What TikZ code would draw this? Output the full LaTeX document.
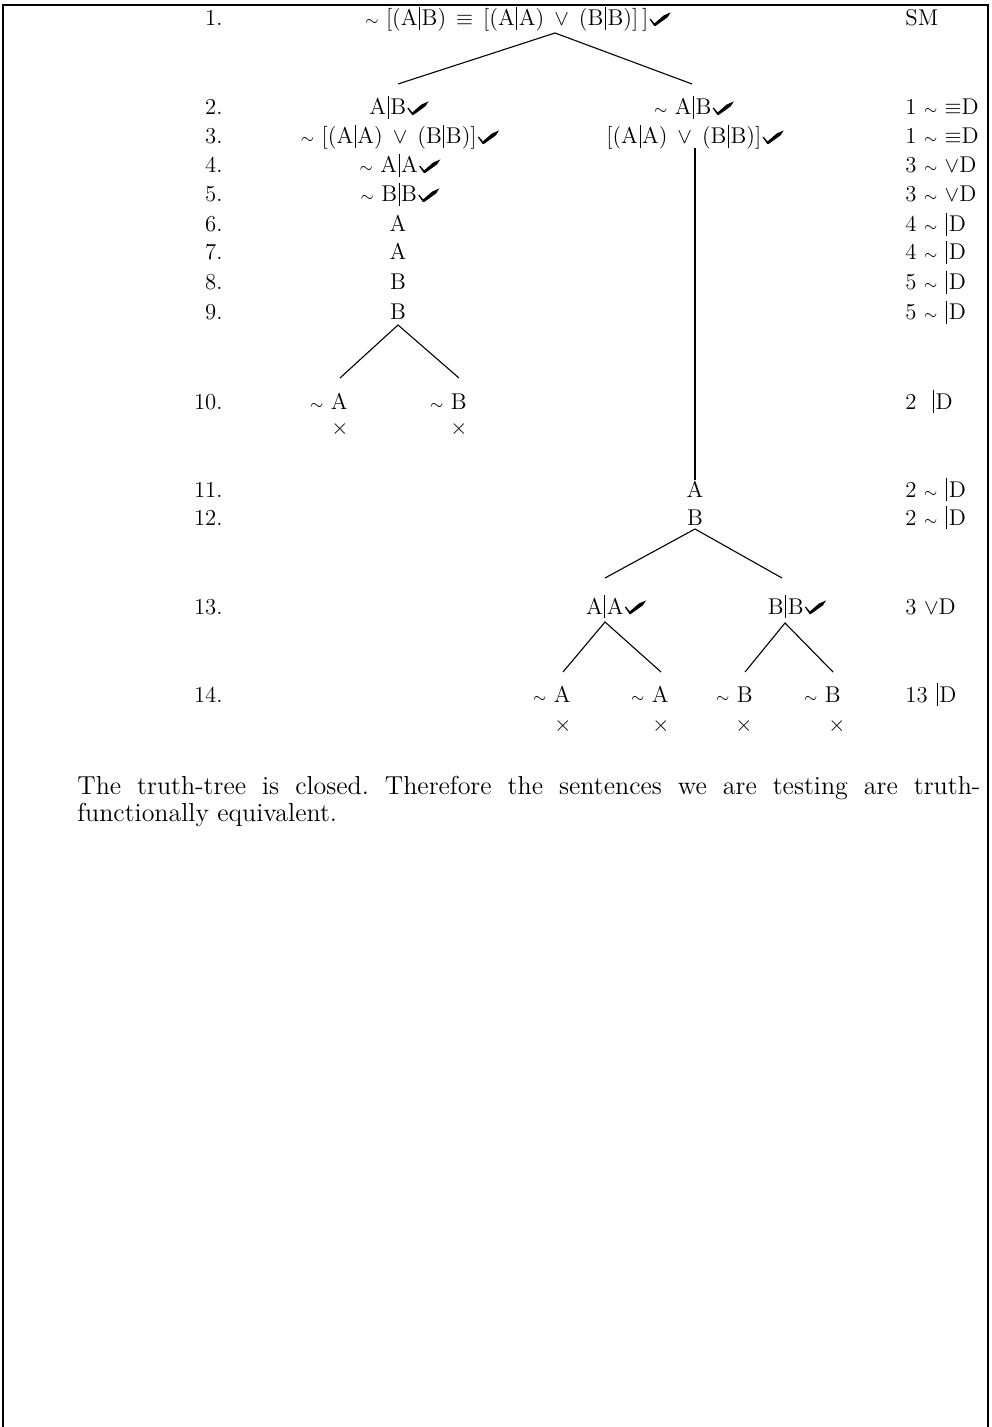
\documentclass[tikz,border=0pt]{standalone}
\usepackage{amssymb}
\newcommand\tf{\fontsize{11.4}{13}\selectfont}
\newcommand\ptf{\fontsize{13}{15}\selectfont}
\newcommand\shf{\kern0.8pt\rule[-2pt]{0.45pt}{11.5pt}\kern0.8pt}
\newcommand\tneg{{\footnotesize$\sim$}\ }
\newcommand\teq{\kern5pt$\equiv$\kern5pt}
\newcommand\tor{\kern5pt$\vee$\kern5pt}
\newcommand\chk{\kern0.6pt\tikz[baseline=0pt,x=1pt,y=1pt]\fill (0,3.4) -- (0.5,3.7) -- (2.5,1.3) -- (7.0,5.2) -- (10.6,6.8) -- (9.0,4.3) -- (3.0,0) -- (2.4,0) -- cycle;}
\tikzset{
  num/.style={anchor=base east, inner sep=0pt, font=\tf},
  fm/.style={anchor=base, inner sep=0pt, font=\tf},
  fme/.style={anchor=base east, inner sep=0pt, font=\tf},
  just/.style={anchor=base west, inner sep=0pt, font=\tf},
  cross/.style={anchor=center, inner sep=0pt, font=\tf},
  br/.style={line width=0.55pt},
  para/.style={anchor=base west, inner sep=0pt, font=\ptf},
}
\begin{document}
\begin{tikzpicture}[x=0.5pt,y=-0.5pt]
\useasboundingbox (0,0) rectangle (991,1427);
\draw[line width=0.8pt] (3,1427) -- (3,5) -- (988,5) -- (988,1427);
% line numbers
\node[num] (n1) at (223,26) {1.};
\node[num] (n2) at (223,115) {2.};
\node[num] (n3) at (223,144) {3.};
\node[num] (n4) at (223,173) {4.};
\node[num] (n5) at (223,202) {5.};
\node[num] (n6) at (223,232) {6.};
\node[num] (n7) at (223,260) {7.};
\node[num] (n8) at (223,290) {8.};
\node[num] (n9) at (223,320) {9.};
\node[num] (n10) at (223,409) {10.};
\node[num] (n11) at (223,497) {11.};
\node[num] (n12) at (223,525) {12.};
\node[num] (n13) at (223,614) {13.};
\node[num] (n14) at (223,702) {14.};
% formulas
\node[fm] (f1) at (518,26) {\tneg[(A\shf B)\teq[(A\shf A)\tor(B\shf B)]\,]\chk};
\node[fm] (f2l) at (399,115) {A\shf B\chk};
\node[fm] (f2r) at (694,115) {\tneg A\shf B\chk};
\node[fm] (f3l) at (400,144) {\tneg[(A\shf A)\tor(B\shf B)]\chk};
\node[fm] (f3r) at (695,144) {[(A\shf A)\tor(B\shf B)]\chk};
\node[fm] (f4) at (400,173) {\tneg A\shf A\chk};
\node[fm] (f5) at (400,202) {\tneg B\shf B\chk};
\node[fm] (f6) at (398,232) {A};
\node[fm] (f7) at (398,260) {A};
\node[fm] (f8) at (398,290) {B};
\node[fm] (f9) at (398,320) {B};
\node[fme] (f10a) at (348,409) {\tneg A};
\node[fme] (f10b) at (467,409) {\tneg B};
\node[cross] (x10a) at (340,429) {$\times$};
\node[cross] (x10b) at (459,429) {$\times$};
\node[fm] (f11) at (695,497) {A};
\node[fm] (f12) at (695,525) {B};
\node[fm] (f13a) at (616,614) {A\shf A\chk};
\node[fm] (f13b) at (797,614) {B\shf B\chk};
\node[fme] (f14a) at (571,702) {\tneg A};
\node[fme] (f14b) at (669,702) {\tneg A};
\node[fme] (f14c) at (753,702) {\tneg B};
\node[fme] (f14d) at (841,702) {\tneg B};
\node[cross] (x14a) at (563,726) {$\times$};
\node[cross] (x14b) at (661,726) {$\times$};
\node[cross] (x14c) at (744,726) {$\times$};
\node[cross] (x14d) at (837,726) {$\times$};
% justifications
\node[just] (j1) at (905,26) {SM};
\node[just] (j2) at (905,115) {1 \tneg$\equiv$D};
\node[just] (j3) at (905,144) {1 \tneg$\equiv$D};
\node[just] (j4) at (905,173) {3 \tneg$\vee$D};
\node[just] (j5) at (905,202) {3 \tneg$\vee$D};
\node[just] (j6) at (905,232) {4 \tneg\shf D};
\node[just] (j7) at (905,260) {4 \tneg\shf D};
\node[just] (j8) at (905,290) {5 \tneg\shf D};
\node[just] (j9) at (905,320) {5 \tneg\shf D};
\node[just] (j10) at (905,409) {2\ \ \shf D};
\node[just] (j11) at (905,497) {2 \tneg\shf D};
\node[just] (j12) at (905,525) {2 \tneg\shf D};
\node[just] (j13) at (905,614) {3 $\vee$D};
\node[just] (j14) at (905,702) {13 \shf D};
% branch points
\coordinate (a1) at (555,33);
\coordinate (a1l) at (398,84);
\coordinate (a1r) at (692,84);
\coordinate (v1) at (695,148);
\coordinate (v2) at (695,480);
\coordinate (a9) at (398,325);
\coordinate (a9l) at (340,378);
\coordinate (a9r) at (459,378);
\coordinate (a12) at (695,529);
\coordinate (a12l) at (605,578);
\coordinate (a12r) at (782,578);
\coordinate (a13a) at (605,622);
\coordinate (a13al) at (563,672);
\coordinate (a13ar) at (661,672);
\coordinate (a13b) at (785,623);
\coordinate (a13bl) at (745,672);
\coordinate (a13br) at (833,672);
\draw[br] (a1l) -- (a1) -- (a1r);
\draw[br] (v1) -- (v2);
\draw[br] (a9l) -- (a9) -- (a9r);
\draw[br] (a12l) -- (a12) -- (a12r);
\draw[br] (a13al) -- (a13a) -- (a13ar);
\draw[br] (a13bl) -- (a13b) -- (a13br);
% paragraph
\node[para] (p1) at (77,794) {\frenchspacing\hbox to 451.5pt{The truth-tree is closed. Therefore the sentences we are testing are truth-}};
\node[para] (p2) at (77,821) {functionally equivalent.};
\end{tikzpicture}
\end{document}
